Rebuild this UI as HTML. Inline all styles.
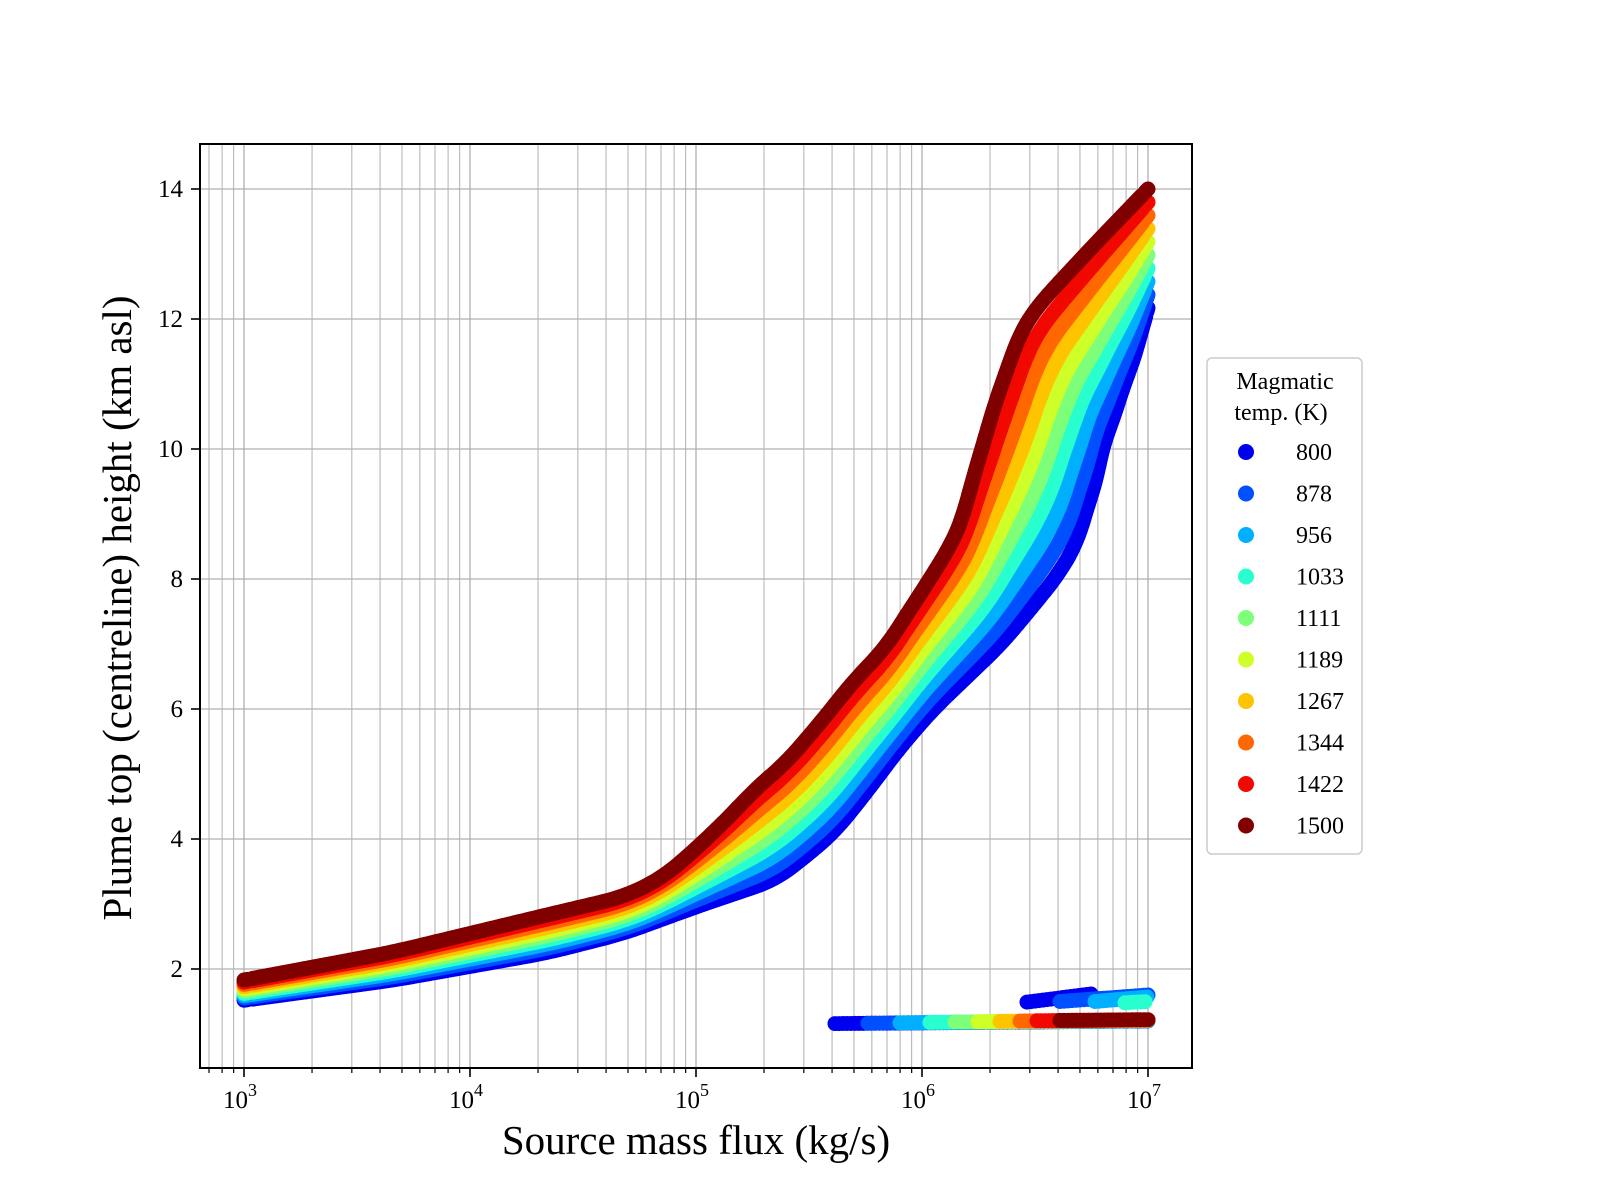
<!DOCTYPE html>
<html><head><meta charset="utf-8"><style>
html,body{margin:0;padding:0;background:#fff;}
svg{display:block;font-family:"Liberation Serif",serif;}
</style></head><body>
<svg id="s" width="1600" height="1200" xmlns="http://www.w3.org/2000/svg">
<rect width="1600" height="1200" fill="#fff"/>
<g id="grid"></g>
<g id="data"></g>
<rect x="200" y="144" width="992" height="924" fill="none" stroke="#000" stroke-width="2"/>
<g id="ticks"></g>
<text x="696" y="1154" font-size="41" text-anchor="middle">Source mass flux (kg/s)</text>
<text transform="translate(131,608) rotate(-90)" font-size="41" text-anchor="middle">Plume top (centreline) height (km asl)</text>
<rect x="1207" y="358" width="155" height="496" rx="5" fill="#fff" stroke="#ccc" stroke-width="1.5"/>
<g id="legend" font-size="24"></g>
</svg>
<script>
const NS="http://www.w3.org/2000/svg";
function el(p,t,a,txt){const e=document.createElementNS(NS,t);for(const k in a)e.setAttribute(k,a[k]);if(txt!==undefined)e.textContent=txt;p.appendChild(e);return e;}
const X=l=>244+(l-3)*226, Y=h=>189+(14-h)*65;
const grid=document.getElementById('grid'),ticks=document.getElementById('ticks'),data=document.getElementById('data'),leg=document.getElementById('legend');
for(let d=2;d<=7;d++)for(let m=1;m<=9;m++){const l=d+Math.log10(m);const x=X(l);if(x<201||x>1191)continue;
 el(grid,'line',{x1:x,y1:144,x2:x,y2:1068,stroke:'#b0b0b0','stroke-width':m==1?1.3:1});
 el(ticks,'line',{x1:x,y1:1068,x2:x,y2:1068+(m==1?9:5),stroke:'#000','stroke-width':m==1?1.6:1.2});
 if(m==1){const t=el(ticks,'text',{x:x-4,y:1108,'font-size':25,'text-anchor':'middle'});t.textContent='10';el(t,'tspan',{dy:-12,'font-size':18},String(d));}}
for(let h=2;h<=14;h+=2){const y=Y(h);el(grid,'line',{x1:200,y1:y,x2:1192,y2:y,stroke:'#b0b0b0','stroke-width':1.3});
 el(ticks,'line',{x1:191,y1:y,x2:200,y2:y,stroke:'#000','stroke-width':1.6});
 el(ticks,'text',{x:183,y:y+8,'font-size':25,'text-anchor':'end'},String(h));}
const cols=['#0000f0','#0050ff','#00b0ff','#29ffce','#7dff7a','#ceff29','#ffc400','#ff6800','#f10800','#800000'];
const temps=[800,878,956,1033,1111,1189,1267,1344,1422,1500];
const blue=[[3,1.52],[3.66,1.83],[4.34,2.25],[4.68,2.55],[5.01,2.97],[5.35,3.37],[5.52,3.83],[5.62,4.14],[5.76,4.75],[5.9,5.4],[6.05,6.0],[6.2,6.5],[6.35,7.0],[6.49,7.58],[6.61,8.1],[6.69,8.6],[6.73,9.1],[6.77,9.5],[6.8,10.06],[6.85,10.5],[6.89,10.97],[6.93,11.3],[7,12.17]];
const red=[[3,1.83],[3.66,2.26],[4.34,2.83],[4.68,3.11],[4.85,3.4],[5.01,3.88],[5.19,4.49],[5.24,4.7],[5.4,5.18],[5.56,5.83],[5.69,6.4],[5.84,6.95],[5.96,7.6],[6.05,8.08],[6.14,8.6],[6.18,8.95],[6.23,9.6],[6.27,10.06],[6.31,10.55],[6.35,10.97],[6.39,11.35],[6.43,11.75],[6.49,12.1],[6.55,12.35],[6.77,13.17],[7,14.0]];
function interp(c,l){for(let i=1;i<c.length;i++)if(l<=c[i][0]){const a=c[i-1],b=c[i];return a[1]+(b[1]-a[1])*(l-a[0])/(b[0]-a[0]);}return c[c.length-1][1];}
function resample(c,N){const pts=[];for(let k=0;k<=2000;k++){const l=3+k*0.002;pts.push([X(l),Y(interp(c,l))]);}
 const cum=[0];for(let i=1;i<pts.length;i++)cum.push(cum[i-1]+Math.hypot(pts[i][0]-pts[i-1][0],pts[i][1]-pts[i-1][1]));
 const T=cum[cum.length-1],out=[];let j=0;
 for(let n=0;n<=N;n++){const s=T*n/N;while(j<pts.length-2&&cum[j+1]<s)j++;const t=(s-cum[j])/Math.max(1e-9,cum[j+1]-cum[j]);
  out.push([pts[j][0]+(pts[j+1][0]-pts[j][0])*t,pts[j][1]+(pts[j+1][1]-pts[j][1])*t]);}
 const W=12,sm=[];for(let n=0;n<=N;n++){let sx=0,sy=0,c=0;for(let k=-W;k<=W;k++){const m=Math.min(N,Math.max(0,n+k));sx+=out[m][0];sy+=out[m][1];c++;}
  sm.push(n<3||n>N-3?out[n]:[sx/c,sy/c]);}
 return sm;}
const N=700;const B=resample(blue,N),R=resample(red,N);
const lowStart=[835,868,900,930,955,978,1000,1020,1037,1060];
const up=[[1027,1093,1.49,1.62],[1060,1148,1.5,1.6],[1095,1148,1.5,1.57],[1125,1148,1.48,1.5]];
for(let i=0;i<10;i++){const f=i/9;
 for(let n=0;n<=N;n++){const x=B[n][0]*(1-f)+R[n][0]*f,y=B[n][1]*(1-f)+R[n][1]*f;
  el(data,'circle',{cx:x.toFixed(1),cy:y.toFixed(1),r:7.5,fill:cols[i]});}
 if(i<4){const u=up[i];for(let x=u[0];x<=u[1]+0.1;x+=4){const h=u[2]+(u[3]-u[2])*(x-u[0])/Math.max(1,u[1]-u[0]);el(data,'circle',{cx:x,cy:Y(h).toFixed(1),r:7.5,fill:cols[i]});}}
 for(let x=lowStart[i];x<=1148.1;x+=4){const h=1.16+0.04*(x-835)/313+0.02*f;
  el(data,'circle',{cx:x,cy:Y(h).toFixed(1),r:7.5,fill:cols[i]});}
}
el(leg,'text',{x:1285,y:389,'text-anchor':'middle'},'Magmatic');
el(leg,'text',{x:1281,y:420,'text-anchor':'middle'},'temp. (K)');
for(let i=0;i<10;i++){const y=452+i*41.5;el(leg,'circle',{cx:1246,cy:y,r:8,fill:cols[i]});el(leg,'text',{x:1296,y:y+8},String(temps[i]));}
</script>
</body></html>
